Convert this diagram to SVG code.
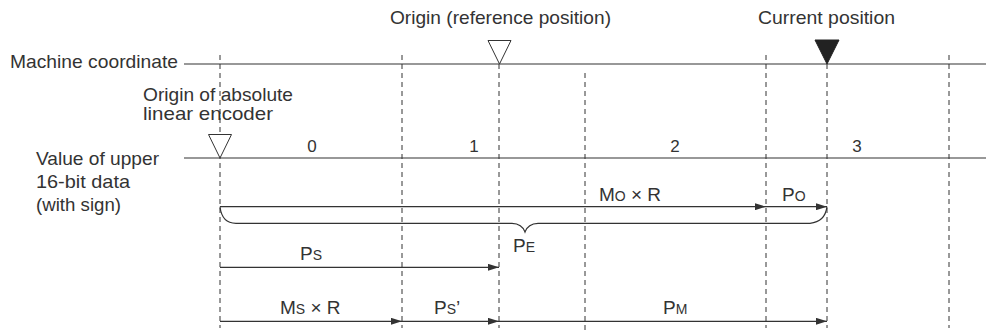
<svg xmlns="http://www.w3.org/2000/svg" width="986" height="331" viewBox="0 0 986 331">
<style>
text{font-family:"Liberation Sans",Arial,sans-serif;fill:#333;font-size:19px}
text.num{font-size:17px}
tspan.sub{font-size:14px}
.ln{stroke:#333;stroke-width:1.2;fill:none}
.ds{stroke:#333;stroke-width:1;stroke-dasharray:5,4;fill:none}
.ar{stroke:#333;stroke-width:1.2;fill:none;marker-end:url(#ah)}
</style>
<defs>
<marker id="ah" markerUnits="userSpaceOnUse" markerWidth="11" markerHeight="7" refX="11" refY="3.5" orient="auto">
<path d="M0,0 L11,3.5 L0,7 z" fill="#333"/>
</marker>
</defs>
<rect width="986" height="331" fill="#fff"/>
<g id="axes">
<line class="ln" x1="184" y1="64" x2="986" y2="64"/>
<line class="ln" x1="184" y1="158" x2="986" y2="158"/>
</g>
<g id="gridlines">
<line class="ds" x1="220" y1="55" x2="220" y2="328"/>
<line class="ds" x1="402" y1="55" x2="402" y2="328"/>
<line class="ds" x1="499" y1="64" x2="499" y2="328"/>
<line class="ds" x1="585" y1="73" x2="585" y2="331"/>
<line class="ds" x1="766" y1="55" x2="766" y2="328"/>
<line class="ds" x1="827" y1="64" x2="827" y2="328"/>
<line class="ds" x1="949" y1="55" x2="949" y2="328"/>
</g>
<g id="labels">
<text x="10" y="67.5" textLength="168" lengthAdjust="spacingAndGlyphs">Machine coordinate</text>
<text x="143" y="101" textLength="150" lengthAdjust="spacingAndGlyphs">Origin of absolute</text>
<text x="143" y="120" textLength="130" lengthAdjust="spacingAndGlyphs">linear encoder</text>
<text x="36" y="165" textLength="123" lengthAdjust="spacingAndGlyphs">Value of upper</text>
<text x="36" y="188" textLength="94" lengthAdjust="spacingAndGlyphs">16-bit data</text>
<text x="36" y="211" textLength="85" lengthAdjust="spacingAndGlyphs">(with sign)</text>
</g>
<g id="origin-ref">
<text x="390" y="23.5" textLength="221" lengthAdjust="spacingAndGlyphs">Origin (reference position)</text>
<path d="M488,40.5 L511,40.5 L499.5,64 z" fill="#fff" stroke="#333" stroke-width="1"/>
</g>
<g id="current-pos">
<text x="758" y="23.5" textLength="137" lengthAdjust="spacingAndGlyphs">Current position</text>
<path d="M815,40 L839,40 L827,64 z" fill="#222" stroke="#222" stroke-width="1"/>
</g>
<g id="encoder-origin">
<path d="M208.5,134.5 L231.5,134.5 L220,158 z" fill="#fff" stroke="#333" stroke-width="1"/>
</g>
<g id="segments">
<text class="num" x="312" y="152" text-anchor="middle">0</text>
<text class="num" x="474" y="152" text-anchor="middle">1</text>
<text class="num" x="675" y="152" text-anchor="middle">2</text>
<text class="num" x="857" y="152" text-anchor="middle">3</text>
</g>
<g id="connectors">
<line class="ar" x1="220" y1="206.7" x2="766" y2="206.7"/>
<line class="ar" x1="766" y1="206.7" x2="827" y2="206.7"/>
<path class="ln" d="M220,206.7 Q222,223.3 236,223.3 L512,223.3 Q522,223.5 525,232 Q528,223.5 538,223.3 L810,223.3 Q825,222 827,206.7"/>
<line class="ar" x1="220" y1="267.3" x2="499" y2="267.3"/>
<line class="ar" x1="220" y1="321.3" x2="402" y2="321.3"/>
<line class="ar" x1="402" y1="321.3" x2="499" y2="321.3"/>
<line class="ar" x1="499" y1="321.3" x2="827" y2="321.3"/>
</g>
<g id="values">
<text x="599" y="200.7">M<tspan class="sub">O</tspan> × R</text>
<text x="782" y="200.7">P<tspan class="sub">O</tspan></text>
<text x="513" y="251.7">P<tspan class="sub">E</tspan></text>
<text x="300" y="260">P<tspan class="sub">S</tspan></text>
<text x="280" y="314">M<tspan class="sub">S</tspan> × R</text>
<text x="434" y="314">P<tspan class="sub">S</tspan>’</text>
<text x="663" y="314">P<tspan class="sub">M</tspan></text>
</g>
</svg>
